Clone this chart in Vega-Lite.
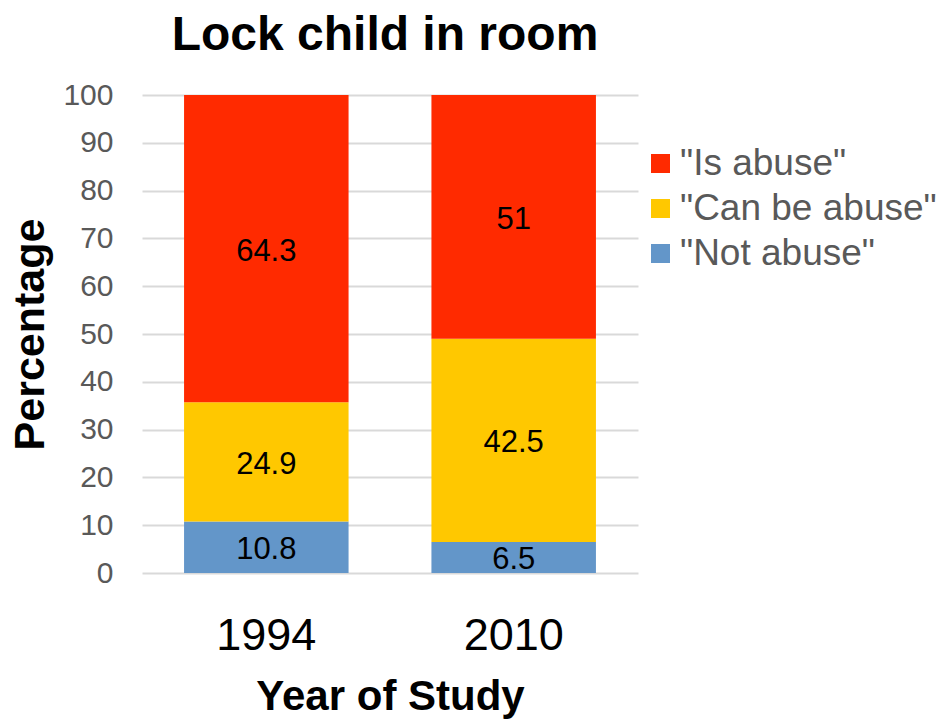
{
  "$schema": "https://vega.github.io/schema/vega-lite/v6.json",
  "width": 496,
  "height": 478,
  "autosize": {"type": "none"},
  "padding": {"left": 142, "top": 95, "right": 300, "bottom": 146},
  "background": "white",
  "config": {
    "font": "Liberation Sans",
    "view": {"stroke": null}
  },
  "title": {
    "text": "Lock child in room",
    "font": "Liberation Sans",
    "fontSize": 48,
    "fontWeight": "bold",
    "color": "black",
    "offset": 20,
    "dx": -5
  },
  "data": {
    "values": [
      {"year": "1994", "response": "\"Not abuse\"", "pct": 10.8, "ord": 1},
      {"year": "1994", "response": "\"Can be abuse\"", "pct": 24.9, "ord": 2},
      {"year": "1994", "response": "\"Is abuse\"", "pct": 64.3, "ord": 3},
      {"year": "2010", "response": "\"Not abuse\"", "pct": 6.5, "ord": 1},
      {"year": "2010", "response": "\"Can be abuse\"", "pct": 42.5, "ord": 2},
      {"year": "2010", "response": "\"Is abuse\"", "pct": 51, "ord": 3}
    ]
  },
  "encoding": {
    "x": {
      "field": "year",
      "type": "nominal",
      "scale": {"paddingInner": 0.335, "paddingOuter": 0.17},
      "axis": {
        "title": "Year of Study",
        "labelAngle": 0,
        "labelFontSize": 45,
        "labelColor": "black",
        "labelPadding": 40,
        "ticks": false,
        "domain": false,
        "grid": false,
        "titleFontSize": 42,
        "titleFontWeight": "bold",
        "titleColor": "black",
        "titlePadding": 18
      }
    },
    "order": {"field": "ord", "type": "quantitative"}
  },
  "layer": [
    {
      "mark": {"type": "bar"},
      "encoding": {
        "y": {
          "field": "pct",
          "type": "quantitative",
          "stack": "zero",
          "scale": {"domain": [0, 100]},
          "axis": {
            "title": "Percentage",
            "values": [0, 10, 20, 30, 40, 50, 60, 70, 80, 90, 100],
            "labelFontSize": 30,
            "labelColor": "#595959",
            "labelPadding": 29,
            "ticks": false,
            "domain": false,
            "gridColor": "#d9d9d9",
            "gridWidth": 2,
            "titleFontSize": 43,
            "titleFontWeight": "bold",
            "titleColor": "black",
            "titlePadding": 10
          }
        },
        "color": {
          "field": "response",
          "type": "nominal",
          "scale": {
            "domain": ["\"Is abuse\"", "\"Can be abuse\"", "\"Not abuse\""],
            "range": ["#FF2A00", "#FFC800", "#6396C9"]
          },
          "legend": {
            "title": null,
            "orient": "none",
            "legendX": 500,
            "legendY": 50,
            "symbolType": "square",
            "symbolSize": 361,
            "symbolStrokeWidth": 0,
            "labelFontSize": 37,
            "labelColor": "#595959",
            "labelOffset": 1,
            "rowPadding": 7,
            "labelLimit": 400
          }
        }
      }
    },
    {
      "mark": {"type": "text", "fontSize": 31, "color": "black", "dy": 3},
      "encoding": {
        "y": {"field": "pct", "type": "quantitative", "stack": "zero", "bandPosition": 0.5},
        "detail": {"field": "response", "type": "nominal"},
        "text": {"field": "pct", "type": "quantitative"}
      }
    }
  ]
}
